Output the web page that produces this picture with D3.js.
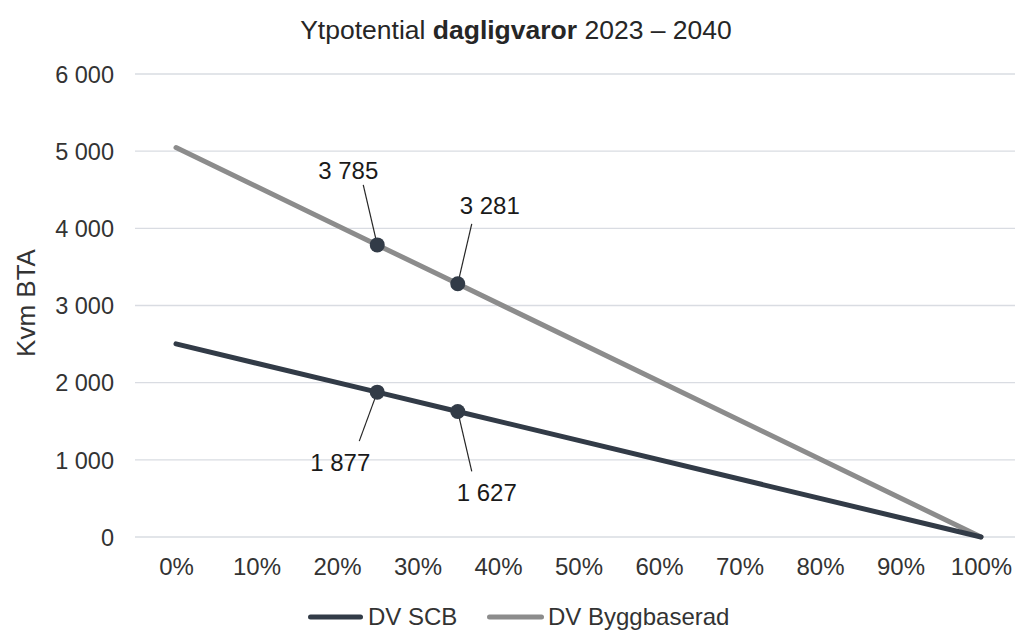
<!DOCTYPE html>
<html>
<head>
<meta charset="utf-8">
<script src="https://cdn.jsdelivr.net/npm/d3@7"></script>
<style>
  html, body { margin: 0; padding: 0; background: #fff; }
  svg { display: block; font-family: "Liberation Sans", Arial, sans-serif; }
</style>
</head>
<body>
<svg id="chart" width="1015" height="630"></svg>
<script>
// ---- data ----
const shares = [0, 0.25, 0.35, 1];
const dvScb = [2503, 1877, 1627, 0];
const dvBygg = [5047, 3785, 3281, 0];
const markerIdx = [1, 2];
const xTicks = [0, 0.1, 0.2, 0.3, 0.4, 0.5, 0.6, 0.7, 0.8, 0.9, 1];
const yTicks = [0, 1000, 2000, 3000, 4000, 5000, 6000];
const seriesNames = ["DV SCB", "DV Byggbaserad"];
const titleParts = ["Ytpotential ", "dagligvaror", " 2023 – 2040"];
const yTitle = "Kvm BTA";

// label placement offsets (style, not data): [series][marker] -> text dx,dy ; leader end lx,ly
const labelOffsets = [
  [{dx: -37, dy: 79, lx: -18, ly: 49}, {dx: 29, dy: 90, lx: 14, ly: 60}],
  [{dx: -29, dy: -66, lx: -14, ly: -60}, {dx: 32, dy: -70, lx: 14, ly: -60}]
];

const colors = ["#323b47", "#8c8c8c"];
const markerColor = "#323b47";
const textColor = "#333333";
const gridColor = "#d9dce2";

const svg = d3.select("#chart");
const fmt = v => d3.format(",")(v).replace(/,/g, "\u00a0");

const x = d3.scaleLinear().domain([0, 1]).range([176, 981]);
const y = d3.scaleLinear().domain([0, 6000]).range([537, 74]);

// gridlines
svg.append("g").selectAll("line").data(yTicks).join("line")
  .attr("x1", 135).attr("x2", 1015)
  .attr("y1", d => y(d)).attr("y2", d => y(d))
  .attr("stroke", gridColor).attr("stroke-width", 1.3);

// y axis labels
const yAxis = d3.axisLeft(y).tickValues(yTicks).tickFormat(fmt).tickSize(0).tickPadding(0);
const yg = svg.append("g").attr("transform", "translate(114,0)").call(yAxis);
yg.select(".domain").remove();
yg.selectAll("text").attr("font-size", 23.5).attr("fill", textColor)
  .attr("font-family", "Liberation Sans, Arial, sans-serif").attr("dy", "0.35em");

// x axis labels
const xAxis = d3.axisBottom(x).tickValues(xTicks).tickFormat(d3.format(".0%")).tickSize(0).tickPadding(0);
const xg = svg.append("g").attr("transform", "translate(0,575)").call(xAxis);
xg.select(".domain").remove();
xg.selectAll("text").attr("font-size", 24).attr("fill", textColor)
  .attr("font-family", "Liberation Sans, Arial, sans-serif").attr("dy", 0);

// y title
svg.append("text")
  .attr("transform", "translate(35,303) rotate(-90)")
  .attr("text-anchor", "middle").attr("font-size", 26).attr("fill", textColor)
  .text(yTitle);

// title
const t = svg.append("text").attr("x", 516).attr("y", 39).attr("text-anchor", "middle")
  .attr("font-size", 26.5).attr("fill", "#262626");
titleParts.forEach((p, i) => t.append("tspan").attr("font-weight", i === 1 ? "bold" : "normal").text(p));

// lines
const seriesData = [dvScb, dvBygg];
const line = d3.line().x((d, i) => x(shares[i])).y(d => y(d));
[1, 0].forEach(s => {
  svg.append("path").datum(seriesData[s])
    .attr("d", line).attr("fill", "none")
    .attr("stroke", colors[s]).attr("stroke-width", 5)
    .attr("stroke-linecap", "round").attr("stroke-linejoin", "round");
});

// labels + leaders + markers
seriesData.forEach((vals, s) => {
  markerIdx.forEach((mi, k) => {
    const cx = x(shares[mi]), cy = y(vals[mi]);
    const o = labelOffsets[s][k];
    svg.append("line").attr("x1", cx).attr("y1", cy).attr("x2", cx + o.lx).attr("y2", cy + o.ly)
      .attr("stroke", "#262626").attr("stroke-width", 1.2);
    svg.append("circle").attr("cx", cx).attr("cy", cy).attr("r", 7.5).attr("fill", markerColor);
    svg.append("text").attr("x", cx + o.dx).attr("y", cy + o.dy).attr("text-anchor", "middle")
      .attr("font-size", 24).attr("fill", "#1a1a1a").text(fmt(vals[mi]));
  });
});

// legend
const legendItems = [
  {x1: 308, x2: 363, tx: 368},
  {x1: 487, x2: 544, tx: 548}
];
seriesNames.forEach((name, s) => {
  const L = legendItems[s];
  svg.append("line").attr("x1", L.x1 + 2.5).attr("x2", L.x2 - 2.5).attr("y1", 617).attr("y2", 617)
    .attr("stroke", colors[s]).attr("stroke-width", 5).attr("stroke-linecap", "round");
  svg.append("text").attr("x", L.tx).attr("y", 625).attr("font-size", 24).attr("fill", textColor).text(name);
});
</script>
</body>
</html>
